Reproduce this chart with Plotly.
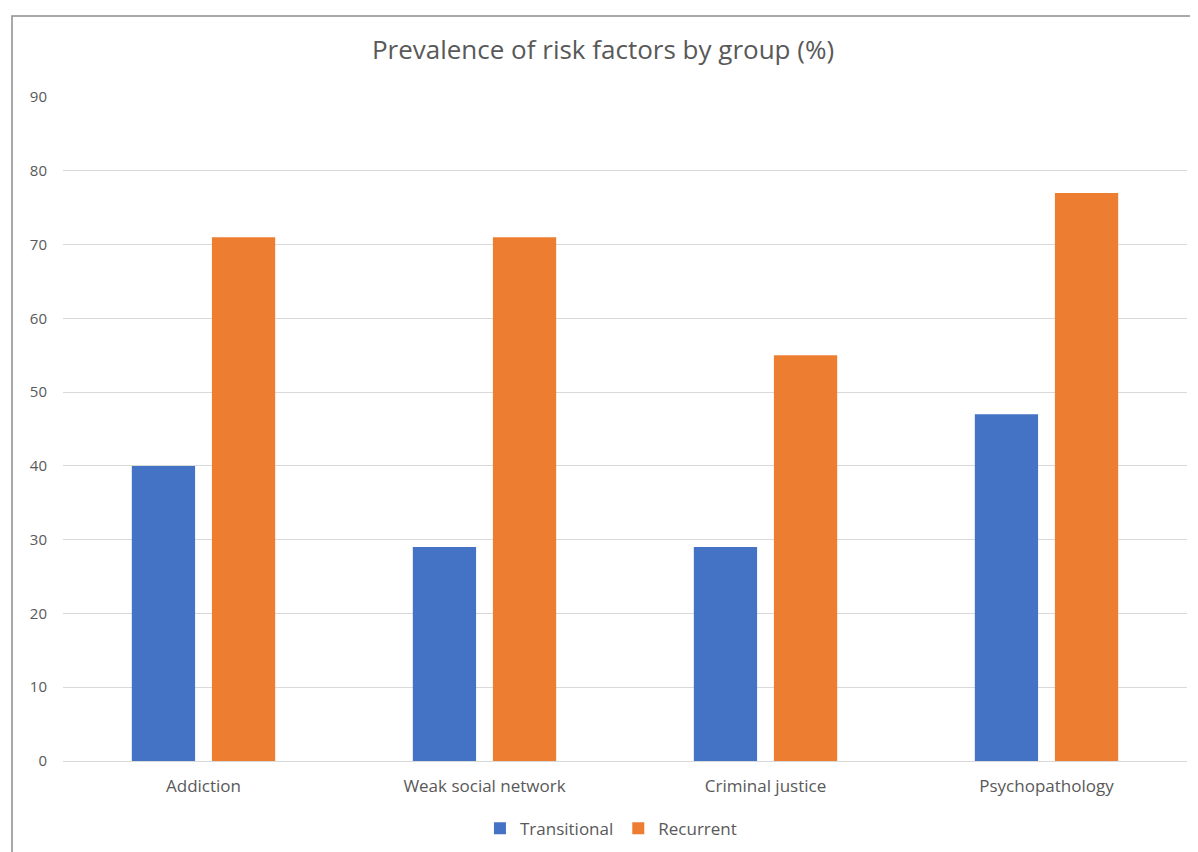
import plotly.graph_objects as go

categories = ["Addiction", "Weak social network", "Criminal justice", "Psychopathology"]
transitional = [40, 29, 29, 47]
recurrent = [71, 71, 55, 77]
y_ticks = list(range(0, 100, 10))
title_text = "Prevalence of risk factors by group (%)"

FONT = "Open Sans, Liberation Sans, sans-serif"
GRAY = "#595959"

W, H = 1190, 844  # page body has an 8px default margin

fig = go.Figure()
fig.add_trace(go.Bar(name="Transitional", x=categories, y=transitional, marker_color="#4472C4", marker_line_width=0))
fig.add_trace(go.Bar(name="Recurrent", x=categories, y=recurrent, marker_color="#ED7D31", marker_line_width=0))

fig.update_layout(
    width=W, height=H,
    margin=dict(l=55, r=11, t=89, b=91, autoexpand=False),
    paper_bgcolor="white", plot_bgcolor="white",
    barmode="group", bargap=0.43, bargroupgap=0.21,
    title=dict(text=title_text, x=0.5, xanchor="center", y=1 - 42 / H, yanchor="middle",
               font=dict(family=FONT, size=26, color=GRAY)),
    font=dict(family=FONT, size=15, color=GRAY),
    legend=dict(orientation="h", x=0.4875, xanchor="center", y=-0.102, yanchor="middle",
                font=dict(size=17, color=GRAY), itemwidth=30, traceorder="normal"),
    xaxis=dict(showline=False, ticks="", tickfont=dict(size=17, color=GRAY), showgrid=False,
               ticklabelstandoff=13, automargin=False),
    yaxis=dict(range=[0, 90], tickvals=y_ticks, showgrid=True, gridcolor="#d9d9d9", gridwidth=1,
               zeroline=True, zerolinecolor="#d9d9d9", zerolinewidth=1, automargin=False,
               ticks="", ticklabelstandoff=15, tickfont=dict(size=15, color=GRAY), showline=False),
)

fig.add_shape(type="rect", xref="paper", yref="paper",
              x0=(4 - 55) / 1124, x1=1.2, y0=-0.5, y1=(753 - 8) / 664,
              line=dict(color="#8c8c8c", width=1.5), fillcolor="rgba(0,0,0,0)", layer="below")

fig.write_html("out.html")
